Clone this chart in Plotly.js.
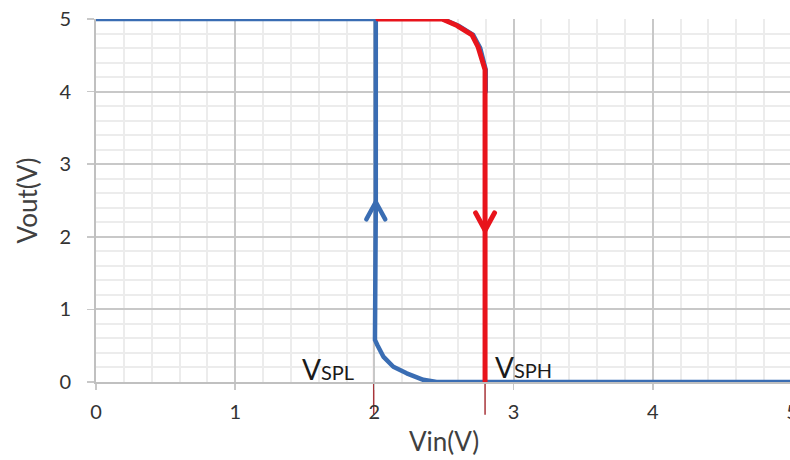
<!DOCTYPE html>
<html>
<head>
<meta charset="utf-8">
<script src="https://cdn.plot.ly/plotly-3.0.1.min.js"></script>
<style>
  html, body { margin: 0; padding: 0; overflow: hidden; background: #fff; }
  #chart { width: 790px; height: 460px; }
  .scatterlayer path.js-line { stroke-linejoin: round; stroke-linecap: round; }
</style>
</head>
<body>
<div id="chart"></div>
<script>
// ---- data ----
// decreasing sweep (blue): output rises at VSPL
const blueX = [0, 2.01, 2.01, 2.004, 2.021, 2.064, 2.136, 2.232, 2.351, 2.447, 5];
const blueY = [5, 5, 2.4, 0.58, 0.51, 0.35, 0.21, 0.12, 0.03, 0, 0];
// blue edge visible under the red knee
const blueKneeX = [2.49, 2.60, 2.71, 2.76, 2.80, 2.80];
const blueKneeY = [5, 4.91, 4.78, 4.60, 4.30, 4.0];
// increasing sweep (red): output falls at VSPH
const redX = [2.026, 2.486, 2.593, 2.701, 2.744, 2.795, 2.795, 2.795];
const redY = [5, 5, 4.91, 4.78, 4.62, 4.32, 4.30, 0];
// direction arrows (tip positions)
const arrowBlue = { x: 2.01, y: 2.48, dir: 1 };
const arrowRed = { x: 2.795, y: 2.09, dir: -1 };
// switching points
const VSPL = 1.995;
const VSPH = 2.795;
const markerTopL = 0.58; // top of the thin VSPL marker (Vout units)
const xTicks = [0, 1, 2, 3, 4, 5];
const yTicks = [0, 1, 2, 3, 4, 5];

const xRange = [0, 5];
const yRange = [0, 5];

const BLUE = '#3a6db3';
const RED = '#e8141c';
const FONT = 'Lato, "Open Sans", sans-serif';

function chevron(a) {
  const dx = 0.068, dy = 0.24;
  return {
    x: [a.x - dx, a.x, a.x + dx],
    y: [a.y - a.dir * dy, a.y, a.y - a.dir * dy]
  };
}

const cb = chevron(arrowBlue);
const cr = chevron(arrowRed);

const traces = [
  { x: blueKneeX, y: blueKneeY, mode: 'lines', line: { color: BLUE, width: 4.5 }, hoverinfo: 'skip' },
  { x: blueX, y: blueY, mode: 'lines', line: { color: BLUE, width: 4.5 }, hoverinfo: 'skip' },
  { x: redX, y: redY, mode: 'lines', line: { color: RED, width: 5 }, hoverinfo: 'skip' },
  { x: cb.x, y: cb.y, mode: 'lines', line: { color: BLUE, width: 4.5 }, hoverinfo: 'skip' },
  { x: cr.x, y: cr.y, mode: 'lines', line: { color: RED, width: 5 }, hoverinfo: 'skip' }
];

const layout = {
  width: 792,
  height: 460,
  margin: { l: 96, r: 0, t: 19, b: 78 },
  paper_bgcolor: '#ffffff',
  plot_bgcolor: '#ffffff',
  showlegend: false,
  font: { family: FONT, color: '#404040', size: 20 },
  xaxis: {
    range: xRange,
    tickvals: xTicks,
    ticktext: xTicks.map(String),
    ticklabeloverflow: 'allow',
    showline: true, linecolor: '#c0c0c0', linewidth: 2,
    ticks: 'outside', ticklen: 6, tickcolor: '#c8c8c8', tickwidth: 1.5,
    ticklabelstandoff: 5,
    showgrid: true, gridcolor: '#c8c8c8', gridwidth: 2,
    minor: { dtick: 0.2, showgrid: true, gridcolor: '#ececec', gridwidth: 2, ticks: '' },
    zeroline: false,
    tickfont: { family: FONT, size: 20, color: '#333333' },
    title: { text: 'Vin(V)', font: { family: FONT, size: 26, color: '#404040' }, standoff: 11 },
    fixedrange: true
  },
  yaxis: {
    range: yRange,
    tickvals: yTicks,
    ticktext: yTicks.map(String),
    showline: true, linecolor: '#c0c0c0', linewidth: 2,
    ticks: 'outside', ticklen: 7, tickcolor: '#c8c8c8', tickwidth: 1.5,
    ticklabelstandoff: 12,
    showgrid: true, gridcolor: '#c8c8c8', gridwidth: 2,
    minor: { dtick: 0.2, showgrid: true, gridcolor: '#ececec', gridwidth: 2, ticks: '' },
    zeroline: false,
    tickfont: { family: FONT, size: 20, color: '#333333' },
    title: { text: 'Vout(V)', font: { family: FONT, size: 26, color: '#404040' }, standoff: 14 },
    fixedrange: true
  },
  shapes: [
    { type: 'line', xref: 'x', yref: 'paper', x0: VSPL, x1: VSPL,
      y0: -0.09, y1: (markerTopL - yRange[0]) / (yRange[1] - yRange[0]),
      line: { color: '#a8353a', width: 1.5 }, layer: 'below' },
    { type: 'line', xref: 'x', yref: 'paper', x0: VSPH, x1: VSPH,
      y0: -0.09, y1: 0.5,
      line: { color: '#a8353a', width: 1.5 }, layer: 'below' }
  ],
  annotations: [
    { xref: 'x', yref: 'y', x: VSPL, y: 0, xanchor: 'right', yanchor: 'bottom',
      xshift: -18, yshift: -6, showarrow: false,
      text: 'V<span style="font-size:20px">SPL</span>',
      font: { family: FONT, size: 28, color: '#1a1a1a' } },
    { xref: 'x', yref: 'y', x: VSPH, y: 0, xanchor: 'left', yanchor: 'bottom',
      xshift: 8, yshift: -4, showarrow: false,
      text: 'V<span style="font-size:20px">SPH</span>',
      font: { family: FONT, size: 28, color: '#1a1a1a' } }
  ]
};

Plotly.newPlot('chart', traces, layout, { staticPlot: true, displayModeBar: false });
</script>
</body>
</html>
